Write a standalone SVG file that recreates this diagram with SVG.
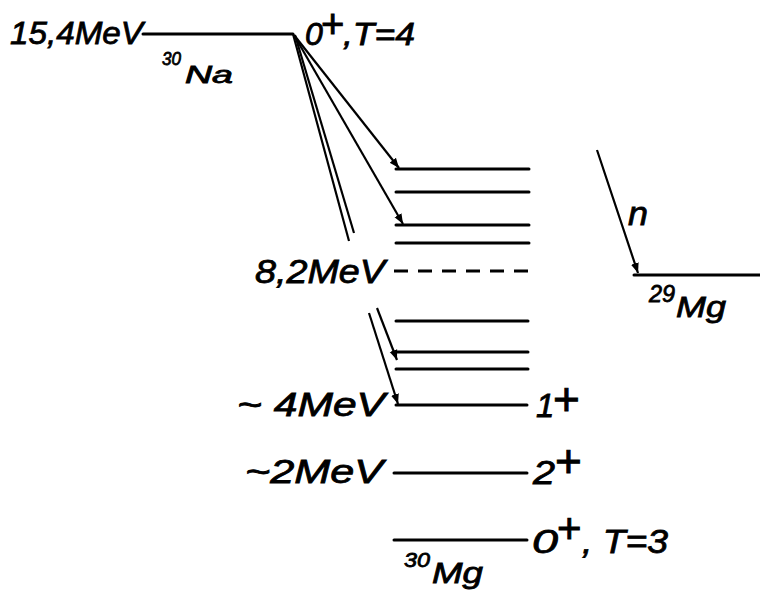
<svg xmlns="http://www.w3.org/2000/svg" width="760" height="604" viewBox="0 0 760 604">
<style>
.t{font-family:"Liberation Sans","DejaVu Sans",sans-serif;font-style:italic;fill:#000;stroke:#000;stroke-width:0.8}
.p{font-family:"Liberation Sans","DejaVu Sans",sans-serif;fill:#000;stroke:#000;stroke-width:0.9}
.lv{stroke:#000;stroke-width:3;fill:none;stroke-linecap:round}
.tr{stroke:#000;stroke-width:2.2;fill:none}
</style>
<defs>
<marker id="ah" markerUnits="userSpaceOnUse" markerWidth="12" markerHeight="12" refX="10" refY="5" orient="auto" viewBox="0 0 12 10">
<path d="M0,1 L10,5 L0,9 Z" fill="#000"/>
</marker>
</defs>
<rect width="760" height="604" fill="#fff"/>
<g id="na30">
<line class="lv" x1="143" y1="34" x2="293" y2="34"/>
<text class="t" x="10" y="44" font-size="32" textLength="133" lengthAdjust="spacingAndGlyphs">15,4MeV</text>
<text class="t" x="162" y="65" font-size="19" textLength="19" lengthAdjust="spacingAndGlyphs">30</text>
<text class="t" x="185" y="83" font-size="23" textLength="48" lengthAdjust="spacingAndGlyphs">Na</text>
<text class="t" x="305" y="45" font-size="32">0</text>
<text class="p" x="321" y="38" font-size="40">+</text>
<text class="t" x="343" y="45" font-size="32" textLength="72" lengthAdjust="spacingAndGlyphs">,T=4</text>
</g>
<g id="mg30-high">
<line class="lv" x1="396" y1="169" x2="529" y2="169"/>
<line class="lv" x1="396" y1="192" x2="529" y2="192"/>
<line class="lv" x1="396" y1="225" x2="529" y2="225"/>
<line class="lv" x1="396" y1="243" x2="529" y2="243"/>
</g>
<g id="threshold">
<line x1="394" y1="271" x2="528" y2="271" stroke="#000" stroke-width="3" stroke-dasharray="14,10"/>
<text class="t" x="255" y="283" font-size="33" textLength="130" lengthAdjust="spacingAndGlyphs">8,2MeV</text>
</g>
<g id="mg30-mid">
<line class="lv" x1="396" y1="321" x2="528" y2="321"/>
<line class="lv" x1="396" y1="352" x2="528" y2="352"/>
<line class="lv" x1="396" y1="369" x2="528" y2="369"/>
</g>
<g id="lvl-4mev">
<line class="lv" x1="396" y1="405" x2="527" y2="405"/>
<text class="t" x="237" y="416" font-size="33" textLength="148" lengthAdjust="spacingAndGlyphs">~ 4MeV</text>
<text class="t" x="536" y="417" font-size="33">1</text>
<text class="p" x="553" y="415" font-size="46">+</text>
</g>
<g id="lvl-2mev">
<line class="lv" x1="394" y1="473" x2="527" y2="473"/>
<text class="t" x="245" y="483" font-size="33" textLength="138" lengthAdjust="spacingAndGlyphs">~2MeV</text>
<text class="t" x="533" y="484" font-size="34" textLength="22" lengthAdjust="spacingAndGlyphs">2</text>
<text class="p" x="555" y="477" font-size="46">+</text>
</g>
<g id="mg30-gs">
<line class="lv" x1="394" y1="540" x2="527" y2="540"/>
<text class="t" x="532" y="553" font-size="34" textLength="26" lengthAdjust="spacingAndGlyphs">0</text>
<text class="p" x="557" y="543" font-size="42">+</text>
<text class="t" x="582" y="553" font-size="34" textLength="86" lengthAdjust="spacingAndGlyphs">, T=3</text>
<text class="t" x="404" y="567" font-size="21" textLength="26" lengthAdjust="spacingAndGlyphs">30</text>
<text class="t" x="432" y="583" font-size="29" textLength="51" lengthAdjust="spacingAndGlyphs">Mg</text>
</g>
<g id="mg29">
<line class="lv" x1="634" y1="275" x2="760" y2="275"/>
<text class="t" x="649" y="302" font-size="24" textLength="26" lengthAdjust="spacingAndGlyphs">29</text>
<text class="t" x="676" y="317" font-size="30" textLength="50" lengthAdjust="spacingAndGlyphs">Mg</text>
<text class="t" x="628" y="225" font-size="34" textLength="20" lengthAdjust="spacingAndGlyphs">n</text>
</g>
<g id="connectors">
<line class="tr" x1="294" y1="35" x2="399" y2="168" marker-end="url(#ah)"/>
<line class="tr" x1="294" y1="35" x2="403" y2="224" marker-end="url(#ah)"/>
<line class="tr" x1="293" y1="34" x2="349" y2="241" stroke-width="2.6"/>
<line class="tr" x1="295" y1="35" x2="354" y2="233" stroke-width="2.6"/>
<line class="tr" x1="369" y1="313" x2="398" y2="404" marker-end="url(#ah)"/>
<line class="tr" x1="377" y1="308" x2="397" y2="360" marker-end="url(#ah)"/>
<line class="tr" x1="597" y1="150" x2="638" y2="273" marker-end="url(#ah)"/>
</g>
</svg>
